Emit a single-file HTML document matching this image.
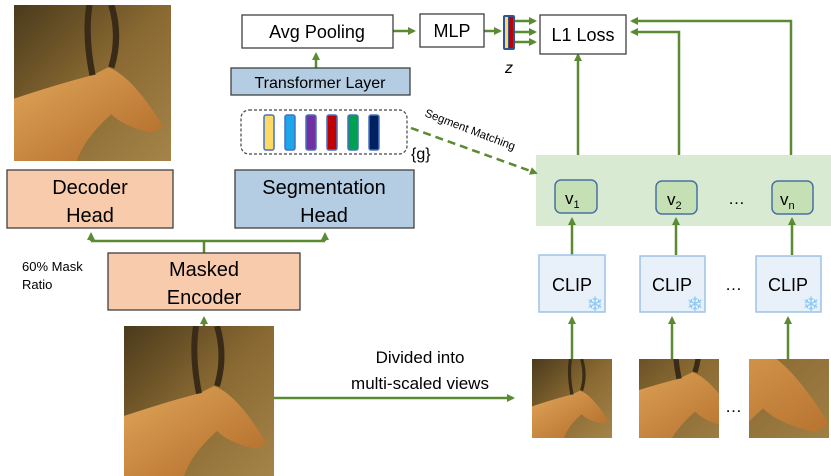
<!DOCTYPE html>
<html><head><meta charset="utf-8"><style>
html,body{margin:0;padding:0;background:#fff;}
svg{display:block;font-family:"Liberation Sans","DejaVu Sans",sans-serif;}
</style></head><body>
<svg width="831" height="476" viewBox="0 0 831 476" xmlns="http://www.w3.org/2000/svg">
<defs>
<marker id="ah" markerWidth="8" markerHeight="8" refX="6" refY="4" orient="auto" markerUnits="userSpaceOnUse">
<path d="M0,0 L8,4 L0,8 z" fill="#5a8a32"/></marker>
<linearGradient id="bg" x1="0" y1="0" x2="1" y2="1">
<stop offset="0" stop-color="#4a3a1c"/><stop offset="0.5" stop-color="#8a6a32"/><stop offset="1" stop-color="#a48448"/></linearGradient>
<linearGradient id="fur" x1="0" y1="0" x2="1" y2="1">
<stop offset="0" stop-color="#e0a65a"/><stop offset="1" stop-color="#b06a28"/></linearGradient>
<g id="ant">
<rect x="0" y="0" width="100" height="100" fill="url(#bg)"/>
<path d="M0,60 Q30,50 50,45 L60,40 Q75,45 95,78 L88,82 Q70,78 62,70 Q45,85 40,100 L0,100 z" fill="url(#fur)"/>
<path d="M50,45 Q45,20 48,0 M62,40 Q68,20 62,0" stroke="#3a2a18" stroke-width="4" fill="none"/>
</g>
</defs>

<!-- images -->
<svg x="14" y="5" width="157" height="156" viewBox="0 0 100 100" preserveAspectRatio="none"><use href="#ant"/></svg>
<svg x="124" y="326" width="150" height="150" viewBox="0 0 100 100" preserveAspectRatio="none"><use href="#ant"/></svg>
<svg x="532" y="359" width="80" height="79" viewBox="0 0 100 100" preserveAspectRatio="none"><use href="#ant"/></svg>
<svg x="639" y="359" width="80" height="79" viewBox="20 30 60 60" preserveAspectRatio="none"><use href="#ant"/></svg>
<svg x="749" y="359" width="80" height="79" viewBox="55 45 40 40" preserveAspectRatio="none"><use href="#ant"/></svg>

<g stroke="#5a8a32" stroke-width="2.5" fill="none">
<line x1="204" y1="326" x2="204" y2="318" marker-end="url(#ah)"/>
<line x1="204" y1="253" x2="204" y2="241"/>
<line x1="91" y1="241" x2="325" y2="241"/>
<line x1="91" y1="241" x2="91" y2="234" marker-end="url(#ah)"/>
<line x1="325" y1="241" x2="325" y2="234" marker-end="url(#ah)"/>
<line x1="316" y1="68" x2="316" y2="54" marker-end="url(#ah)"/>
<line x1="393" y1="31" x2="414" y2="31" marker-end="url(#ah)"/>
<line x1="484" y1="31" x2="500" y2="31" marker-end="url(#ah)"/>
<line x1="515" y1="21" x2="535" y2="21" marker-end="url(#ah)"/>
<line x1="515" y1="32" x2="535" y2="32" marker-end="url(#ah)"/>
<line x1="515" y1="42" x2="535" y2="42" marker-end="url(#ah)"/>
<line x1="578" y1="155" x2="578" y2="55" marker-end="url(#ah)"/>
<polyline points="679,155 679,32 632,32" marker-end="url(#ah)"/>
<polyline points="791,155 791,21 632,21" marker-end="url(#ah)"/>
<line x1="274" y1="398" x2="513" y2="398" marker-end="url(#ah)"/>
<line x1="572" y1="359" x2="572" y2="318" marker-end="url(#ah)"/>
<line x1="672" y1="359" x2="672" y2="318" marker-end="url(#ah)"/>
<line x1="788" y1="359" x2="788" y2="318" marker-end="url(#ah)"/>
</g>

<rect x="536" y="155" width="295" height="71" fill="#d9ead3"/>
<g stroke="#5a8a32" stroke-width="2.5" fill="none">
<line x1="572" y1="255" x2="572" y2="219" marker-end="url(#ah)"/>
<line x1="676" y1="255" x2="676" y2="219" marker-end="url(#ah)"/>
<line x1="792" y1="255" x2="792" y2="219" marker-end="url(#ah)"/>
</g>
<g fill="#c5e0b4" stroke="#4a6fa5" stroke-width="1.5">
<rect x="555" y="180" width="42" height="33" rx="6"/>
<rect x="656" y="181" width="41" height="33" rx="6"/>
<rect x="772" y="181" width="41" height="33" rx="6"/>
</g>
<g font-size="17" fill="#000">
<text x="565" y="204">v<tspan font-size="11" dy="4">1</tspan></text>
<text x="667" y="205">v<tspan font-size="11" dy="4">2</tspan></text>
<text x="780" y="205">v<tspan font-size="11" dy="4">n</tspan></text>
<text x="728" y="204">…</text>
<text x="725" y="290">…</text>
<text x="725" y="412">…</text>
</g>

<g fill="#e8f0fa" stroke="#9dc3e6" stroke-width="1.5">
<rect x="539" y="255" width="66" height="57"/>
<rect x="640" y="256" width="65" height="56"/>
<rect x="756" y="256" width="65" height="56"/>
</g>
<g font-size="18" fill="#000" text-anchor="middle">
<text x="572" y="291">CLIP</text>
<text x="672" y="291">CLIP</text>
<text x="788" y="291">CLIP</text>
</g>
<g fill="#8cc8f5" font-size="20" text-anchor="middle">
<text x="595" y="311">❄</text>
<text x="695" y="311">❄</text>
<text x="811" y="311">❄</text>
</g>

<g stroke="#404040" stroke-width="1.3">
<rect x="242" y="15" width="151" height="33" fill="#fff"/>
<rect x="420" y="14" width="64" height="33" fill="#fff"/>
<rect x="540" y="15" width="86" height="39" fill="#fff"/>
<rect x="231" y="68" width="179" height="27" fill="#b4cde3"/>
<rect x="235" y="170" width="179" height="58" fill="#b4cde3"/>
<rect x="7" y="170" width="166" height="58" fill="#f8cbad"/>
<rect x="108" y="253" width="192" height="57" fill="#f8cbad"/>
</g>
<rect x="503" y="15" width="12" height="35" rx="2" fill="#2f5597"/>
<rect x="505" y="17" width="3" height="31" fill="#ffd966"/>
<rect x="509" y="17" width="4" height="31" fill="#c00000"/>
<text x="509" y="73" font-size="16" font-style="italic" text-anchor="middle">z</text>

<rect x="241" y="110" width="166" height="44" rx="8" fill="#fff" stroke="#444" stroke-width="1.2" stroke-dasharray="3,2"/>
<g stroke="#4472c4" stroke-width="1.5">
<rect x="264" y="115" width="10" height="35" rx="2" fill="#ffd966"/>
<rect x="285" y="115" width="10" height="35" rx="2" fill="#1ea7e8"/>
<rect x="306" y="115" width="10" height="35" rx="2" fill="#7030a0"/>
<rect x="327" y="115" width="10" height="35" rx="2" fill="#c00000"/>
<rect x="348" y="115" width="10" height="35" rx="2" fill="#00a050"/>
<rect x="369" y="115" width="10" height="35" rx="2" fill="#002060"/>
</g>
<text x="411" y="159" font-size="16">{g}</text>
<line x1="411" y1="128" x2="536" y2="173" stroke="#5a8a32" stroke-width="2.5" stroke-dasharray="8,5" marker-end="url(#ah)"/>
<text x="0" y="0" font-size="11.5" transform="translate(424,116) rotate(21)">Segment Matching</text>

<g font-size="18" fill="#000" text-anchor="middle">
<text x="317" y="38">Avg Pooling</text>
<text x="452" y="37">MLP</text>
<text x="583" y="41">L1 Loss</text>
<text x="320" y="88" font-size="16">Transformer Layer</text>
<text x="324" y="194" font-size="20">Segmentation</text>
<text x="324" y="222" font-size="20">Head</text>
<text x="90" y="194" font-size="20">Decoder</text>
<text x="90" y="222" font-size="20">Head</text>
<text x="204" y="276" font-size="20">Masked</text>
<text x="204" y="304" font-size="20">Encoder</text>
<text x="420" y="363" font-size="17">Divided into</text>
<text x="420" y="389" font-size="17">multi-scaled views</text>
</g>
<text x="22" y="271" font-size="13">60% Mask</text>
<text x="22" y="289" font-size="13">Ratio</text>
</svg>
</body></html>
